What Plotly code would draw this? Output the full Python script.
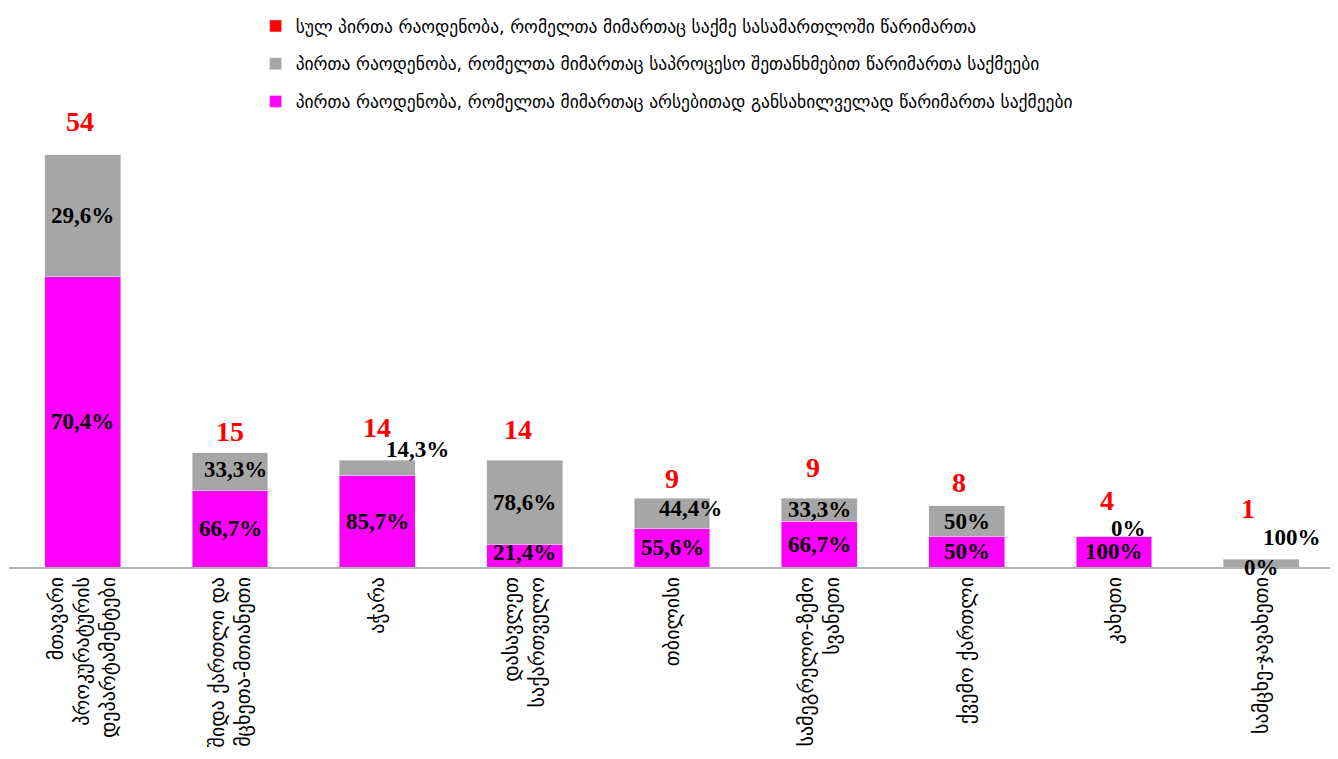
import plotly.graph_objects as go

categories = [
    "მთავარი<br>პროკურატურის<br>დეპარტამენტები",
    "შიდა ქართლი და<br>მცხეთა-მთიანეთი",
    "აჭარა",
    "დასავლეთ<br>საქართველო",
    "თბილისი",
    "სამეგრელო-ზემო<br>სვანეთი",
    "ქვემო ქართლი",
    "კახეთი",
    "სამცხე-ჯავახეთი",
]
totals = [54, 15, 14, 14, 9, 9, 8, 4, 1]
substantive = [38, 10, 12, 3, 5, 6, 4, 4, 0]
plea = [16, 5, 2, 11, 4, 3, 4, 0, 1]
substantive_pct = ["70,4%", "66,7%", "85,7%", "21,4%", "55,6%", "66,7%", "50%", "100%", "0%"]
plea_pct = ["29,6%", "33,3%", "14,3%", "78,6%", "44,4%", "33,3%", "50%", "0%", "100%"]

name_total = "სულ პირთა რაოდენობა, რომელთა მიმართაც საქმე სასამართლოში წარიმართა"
name_plea = "პირთა რაოდენობა, რომელთა მიმართაც საპროცესო შეთანხმებით წარიმართა საქმეები"
name_sub = "პირთა რაოდენობა, რომელთა მიმართაც არსებითად განსახილველად წარიმართა საქმეები"

# label offsets (styling, pixels)
total_dx = [-3, 0, 0, -7, 0, -6, -8, -7, -13]
total_dy = [33, 21, 33, 31, 20, 31, 23, 36, 51]
plea_dx = [0, 5, 40, 0, 18, 0, 0, 14, 31]
plea_dy = [0, 2, 18, 0, 5, 0, 0, 8, 26]
sub_dx = [0, 0, 0, 0, 0, 0, 0, 0, 0]
sub_dy = [0, 0, 0, 3, 0, 0, 0, 0, 0]

MAGENTA = "#FF00FF"
GRAY = "#A6A6A6"
RED = "#FF0000"

fig = go.Figure()
fig.add_trace(go.Bar(x=categories, y=substantive, name=name_sub, marker_color=MAGENTA,
                     legendgroup="c", legendrank=3, hoverinfo="y"))
fig.add_trace(go.Bar(x=categories, y=plea, name=name_plea, marker_color=GRAY,
                     legendgroup="b", legendrank=2, hoverinfo="y"))
fig.add_trace(go.Bar(x=[None], y=[None], name=name_total, marker_color=RED,
                     legendgroup="a", legendrank=1))

lab_font = dict(family="Liberation Serif", size=23, color="black")
annotations = []
for i, c in enumerate(categories):
    annotations.append(dict(x=c, y=substantive[i] / 2, text=f"<b>{substantive_pct[i]}</b>",
                            showarrow=False, xshift=sub_dx[i], yshift=sub_dy[i], font=lab_font))
    annotations.append(dict(x=c, y=substantive[i] + plea[i] / 2, text=f"<b>{plea_pct[i]}</b>",
                            showarrow=False, xshift=plea_dx[i], yshift=plea_dy[i], font=lab_font))
    annotations.append(dict(x=c, y=totals[i], text=f"<b>{totals[i]}</b>", showarrow=False,
                            xshift=total_dx[i], yshift=total_dy[i],
                            font=dict(family="Liberation Serif", size=28, color=RED)))

fig.update_layout(
    barmode="stack",
    bargap=0.485,
    width=1330, height=743,
    margin=dict(l=1, r=3, t=101, b=184, autoexpand=False),
    plot_bgcolor="white", paper_bgcolor="white",
    showlegend=True,
    legend=dict(x=0.186, y=1.2205, xanchor="left", yanchor="top",
                traceorder="grouped", tracegroupgap=12,
                font=dict(family="DejaVu Sans", size=17.5, color="black"),
                bgcolor="rgba(0,0,0,0)"),
    annotations=annotations,
    xaxis=dict(showline=True, linecolor="#B3B3B3", linewidth=2, ticks="",
               tickangle=-90, automargin=False,
               tickfont=dict(family="DejaVu Sans", size=20, color="black"),
               showgrid=False),
    yaxis=dict(range=[0, 60], visible=False, showgrid=False, zeroline=False,
               automargin=False),
)

fig.write_html("out.html")
